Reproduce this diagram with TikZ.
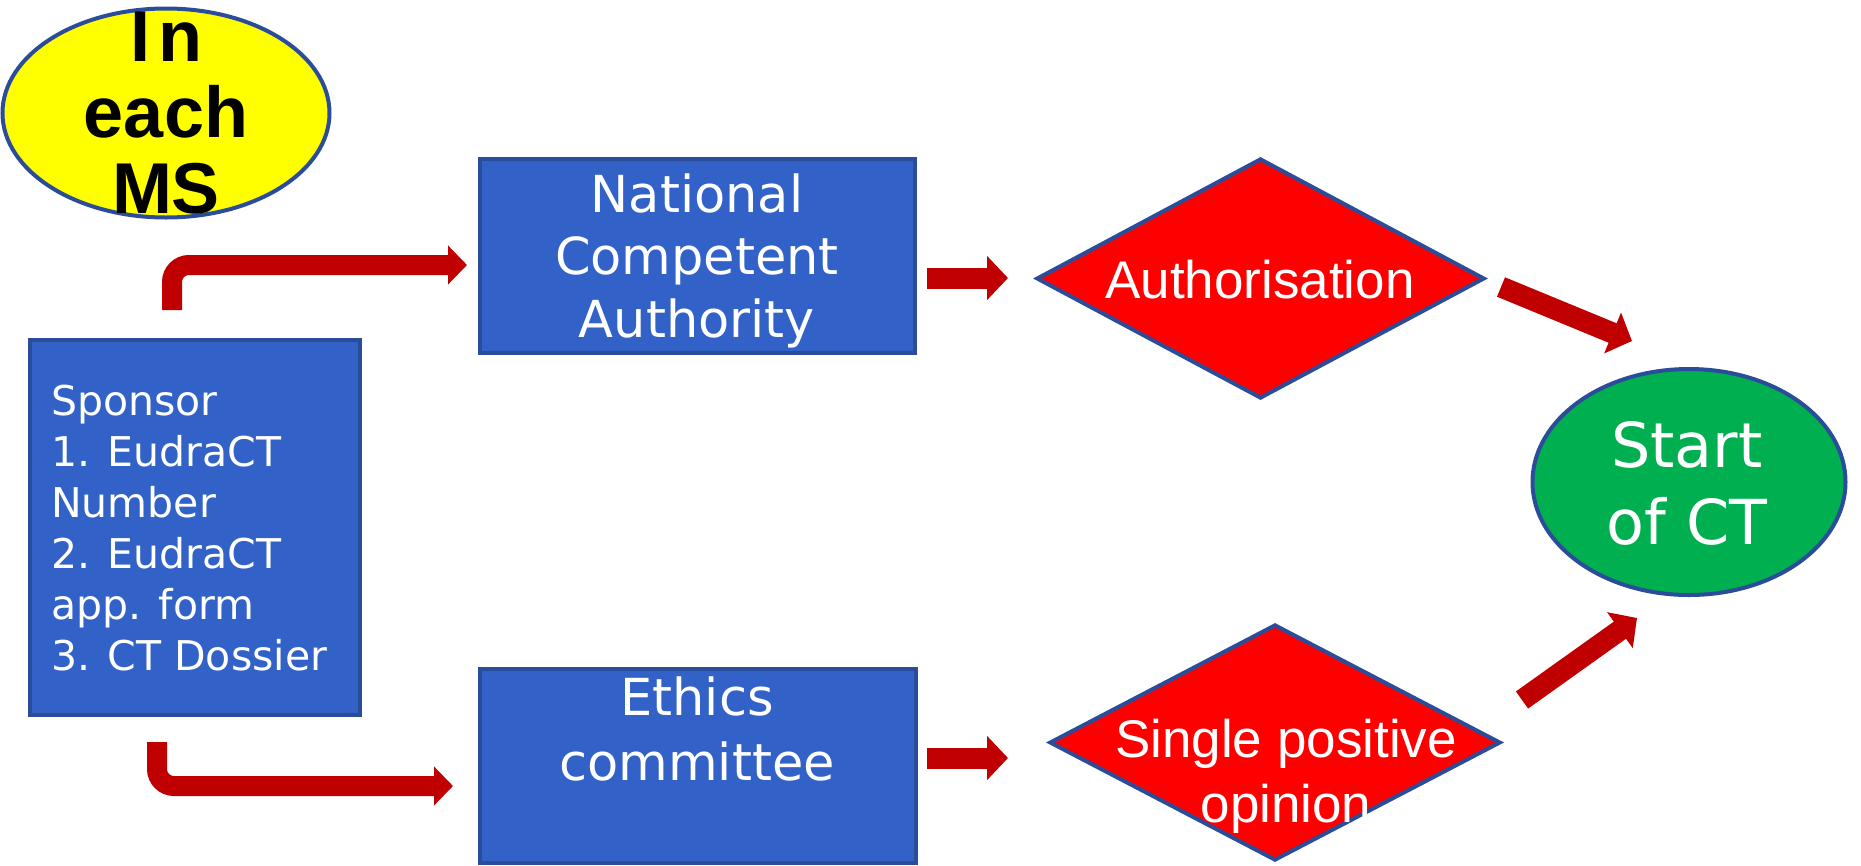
\documentclass[tikz,border=0pt]{standalone}
\usepackage{fontspec}
\newfontfamily\dvfont{DejaVu Sans}
\newfontfamily\arfont{Liberation Sans}
\usetikzlibrary{shapes.geometric,arrows.meta}
\definecolor{boxblue}{HTML}{3262C8}
\definecolor{edgeblue}{HTML}{2B4C98}
\definecolor{arrowred}{HTML}{C00000}
\definecolor{diared}{HTML}{FF0000}
\definecolor{ctgreen}{HTML}{00B050}
\definecolor{msyellow}{HTML}{FFFF00}
\begin{document}
\begin{tikzpicture}[x=1pt,y=-1pt,
  bluebox/.style={draw=edgeblue, line width=4pt, fill=boxblue, inner sep=0pt},
  decision/.style={diamond, draw=edgeblue, line width=4pt, fill=diared, inner sep=0pt},
  oval/.style={ellipse, draw=edgeblue, line width=4pt, inner sep=0pt},
  lbl/.style={inner sep=0pt, text=white, anchor=base},
  blockarrow/.style={draw=arrowred, line width=21pt, -{Triangle[width=43pt,length=21pt]}},
  bentarrow/.style={draw=arrowred, line width=20pt, rounded corners=17pt, -{Triangle[width=38pt,length=19pt]}}]
\useasboundingbox (0,0) rectangle (1861,865);
% yellow ellipse
\node[oval, fill=msyellow, minimum width=327pt, minimum height=209pt] (ms) at (166,113) {};
\node[lbl, text=black, font=\arfont\bfseries\fontsize{72}{76}\selectfont, align=center] (mstext) at (166,213) {I\kern8pt n\\each\\MS};
% sponsor
\node[bluebox, minimum width=330pt, minimum height=375pt] (sponsor) at (194.5,527) {};
\node[lbl, font=\dvfont\fontsize{41}{51}\selectfont, align=left, anchor=base west] (sponsortext) at (51,670) {Sponsor\\1. EudraCT\\Number\\2. EudraCT\\app. form\\3. CT Dossier};
% NCA
\node[bluebox, minimum width=435pt, minimum height=194pt] (nca) at (697,255.5) {};
\node[lbl, font=\dvfont\fontsize{51}{62.5}\selectfont, align=center] (ncatext) at (697,337) {National\\Competent\\Authority};
% Ethics
\node[bluebox, minimum width=436pt, minimum height=194pt] (ethics) at (697.5,766) {};
\node[lbl, font=\dvfont\fontsize{51}{65}\selectfont, align=center] (ethicstext) at (697,780) {Ethics\\committee};
% diamonds
\node[decision, minimum width=448pt, minimum height=240pt] (auth) at (1260.5,278.5) {};
\node[lbl, font=\arfont\fontsize{53}{65}\selectfont] (authtext) at (1260,298) {Authorisation};
\node[decision, minimum width=451pt, minimum height=236pt] (spo) at (1275,742.5) {};
\node[lbl, font=\arfont\fontsize{53}{65}\selectfont, align=center] (spotext) at (1286,822) {Single positive\\opinion};
% start
\node[oval, fill=ctgreen, minimum width=313pt, minimum height=226pt] (start) at (1689,482) {};
\node[lbl, font=\dvfont\fontsize{62}{77}\selectfont, align=center] (starttext) at (1687,544) {Start\\of CT};
% arrows
\coordinate (a1s) at (172,310); \coordinate (a1e) at (467,265);
\coordinate (a2s) at (157,742); \coordinate (a2e) at (453,786);
\coordinate (a3s) at (927,278); \coordinate (a3e) at (1008,278);
\coordinate (a4s) at (927,758); \coordinate (a4e) at (1008,758);
\coordinate (a5s) at (1501,287); \coordinate (a5e) at (1632,341);
\coordinate (a6s) at (1522,700); \coordinate (a6e) at (1637,618);
\draw[bentarrow] (a1s) |- (a1e);
\draw[bentarrow] (a2s) |- (a2e);
\draw[blockarrow] (a3s) -- (a3e);
\draw[blockarrow] (a4s) -- (a4e);
\draw[blockarrow] (a5s) -- (a5e);
\draw[blockarrow] (a6s) -- (a6e);
\end{tikzpicture}
\end{document}
